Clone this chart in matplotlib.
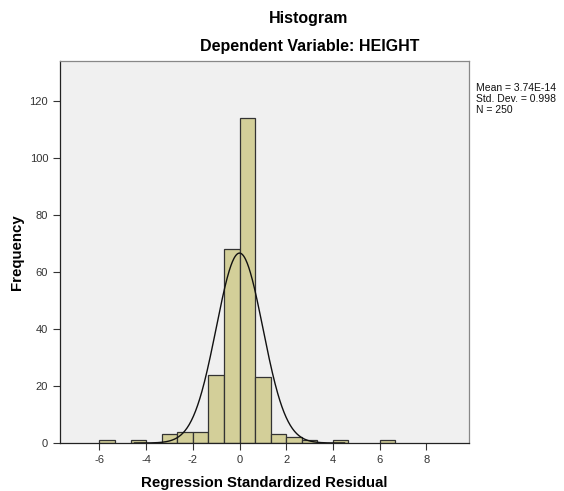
import numpy as np
import matplotlib.pyplot as plt

plt.rcParams['font.family'] = ['Liberation Sans', 'DejaVu Sans']
plt.rcParams['axes.unicode_minus'] = False

# histogram bins (width 2/3) and counts
bin_left = [-6.0, -14/3, -10/3, -8/3, -2.0, -4/3, -2/3, 0.0, 2/3, 4/3, 2.0, 8/3, 4.0, 6.0]
counts = [1, 1, 3, 4, 4, 24, 68, 114, 23, 3, 2, 1, 1, 1]
bin_width = 2 / 3

mean = 3.74e-14
std = 0.998
n = 250
xticks = [-6, -4, -2, 0, 2, 4, 6, 8]
yticks = [0, 20, 40, 60, 80, 100, 120]

fig = plt.figure(figsize=(5.64, 4.91), dpi=100)
ax = fig.add_axes([60/564, 48/491, 409/564, 382/491])
ax.set_facecolor('#F0F0F0')

ax.bar(bin_left, counts, width=bin_width, align='edge',
       color='#D3CF99', edgecolor='#333333', linewidth=0.9)

# fitted normal curve
xs = np.linspace(-4.5, 4.5, 400)
ys = n * bin_width / (std * np.sqrt(2 * np.pi)) * np.exp(-0.5 * ((xs - mean) / std) ** 2)
ax.plot(xs, ys, color='#111111', linewidth=1.0)

ax.set_xlim(-7.69, 9.83)
ax.set_ylim(0, 134)
ax.set_xticks(xticks)
ax.set_yticks(yticks)
ax.tick_params(labelsize=8, labelcolor='#333333', length=5, width=0.8, color='#333333')
for s in ['left', 'bottom']:
    ax.spines[s].set_color('#222222')
    ax.spines[s].set_linewidth(0.9)
for s in ['top', 'right']:
    ax.spines[s].set_color('#888888')
    ax.spines[s].set_linewidth(0.9)

ax.set_xlabel('Regression Standardized Residual', fontsize=10.8, fontweight='bold', labelpad=8)
ax.set_ylabel('Frequency', fontsize=10.8, fontweight='bold', labelpad=4)

fig.text(309/564, 1 - 18/491, 'Histogram', ha='center', va='center', fontsize=11.5, fontweight='bold')
fig.text(310/564, 1 - 47/491, 'Dependent Variable: HEIGHT', ha='center', va='center',
         fontsize=11.5, fontweight='bold')

fig.text(476/564, 1 - 83/491, 'Mean = 3.74E-14\nStd. Dev. = 0.998\nN = 250',
         ha='left', va='top', fontsize=7.5, linespacing=1.1, color='#111111')

fig.savefig('out.png', dpi=100)
